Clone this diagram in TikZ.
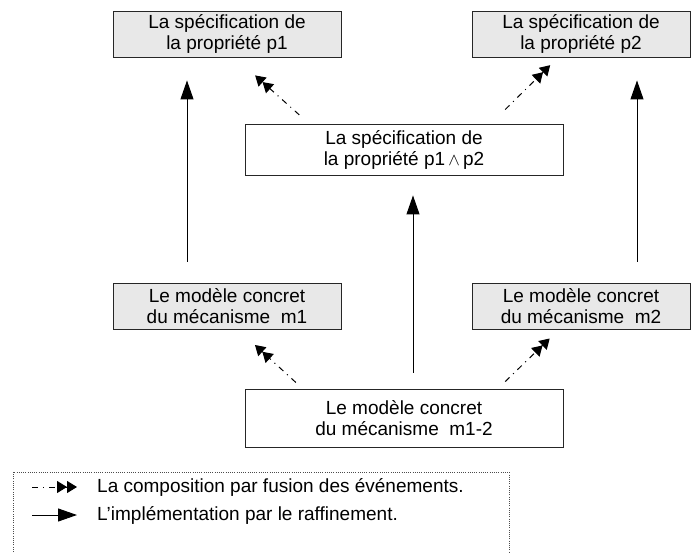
\documentclass[tikz,border=0pt]{standalone}
\usepackage{fontspec}
\setmainfont{Liberation Sans}
\usetikzlibrary{arrows.meta}
\definecolor{boxgray}{RGB}{232,232,232}

\begin{document}
\begin{tikzpicture}[ node distance=177pt, every node/.style={font=\fontsize{19}{21}\selectfont}, align=center,
  box/.style={draw=black!85, line width=0.9pt, inner sep=0pt},
  grey/.style={box, fill=boxgray},
  impl/.style={line width=1pt, -{Triangle[length=19pt,width=13pt]}},
  fusion/.style={line width=1pt, dash pattern=on 6pt off 5pt on 1pt off 5pt,
    -{Triangle[length=10pt,width=12pt,sep=0pt]Triangle[length=10pt,width=12pt]}},
  legendline/.style={draw=black!70, line width=0.8pt, dash pattern=on 1pt off 1.2pt}]
\useasboundingbox (0,0) rectangle (691pt,-552pt);
% Specification of nodes (position, etc.)

\node (p1)      [grey, minimum width=228pt, minimum height=46pt]  at (227pt,-34pt)  {La spécification de\\la propriété p1};
\node (p2)      [grey, minimum width=218pt, minimum height=46pt, right of=p1, xshift=177pt]  {La spécification de\\la propriété p2};
\node (p12)     [box, minimum width=318pt, minimum height=51pt, right of=p1, yshift=-115.5pt]  {La spécification de\\la propriété p1\,{\fontsize{18}{18}\selectfont$\wedge$}\,p2};

\node (m1)      [grey, minimum width=228pt, minimum height=46pt, below of=p1, yshift=-95pt]  {Le modèle concret\\du mécanisme\ \ m1};
\node (m2)      [grey, minimum width=218pt, minimum height=46pt, below of=p2, yshift=-95pt]  {Le modèle concret\\du mécanisme\ \ m2};
\node (m12)     [box, minimum width=318pt, minimum height=58pt, below of=p12, yshift=-91.5pt]  {Le modèle concret\\du mécanisme\ \ m1-2};

\draw[impl, shorten <=21pt, shorten >=23pt]    ([xshift=-40pt]m1.north) -- ([xshift=-40pt]p1.south);
\draw[impl, shorten <=16pt, shorten >=20pt]    ([xshift=9pt]m12.north) -- ([xshift=9pt]p12.south);
\draw[impl, shorten <=21pt, shorten >=23pt]    ([xshift=56pt]m2.north) -- ([xshift=56pt]p2.south);

\draw[fusion, shorten <=13pt, shorten >=27pt]  ([xshift=-95pt]p12.north) -- ([xshift=8pt]p1.south);
\draw[fusion, shorten <=20pt, shorten >=11pt]  ([xshift=87pt]p12.north) -- ([xshift=-23pt]p2.south);
\draw[fusion, shorten <=9pt, shorten >=23pt]   ([xshift=-101.5pt]m12.north) -- ([xshift=11pt]m1.south);
\draw[fusion, shorten <=10pt, shorten >=13pt]  ([xshift=94pt]m12.north) -- ([xshift=-22pt]m2.south);

% legend
\draw[legendline]     (13pt,-552pt) |- (509pt,-472pt) -- (509pt,-552pt);
\coordinate (fusionstart) at (32pt,-487pt);
\node (fusiontxt)     [anchor=west, inner sep=0pt] at (97pt,-487pt) {La composition par fusion des événements.};
\coordinate (implstart)   at (32pt,-515pt);
\node (impltxt)       [anchor=west, inner sep=0pt] at (97pt,-515pt) {L'implémentation par le raffinement.};

\draw[fusion, shorten >=20pt]    (fusionstart) -- (fusiontxt.west);
\draw[impl, shorten >=20pt]      (implstart) -- (impltxt.west);

\end{tikzpicture}
\end{document}
